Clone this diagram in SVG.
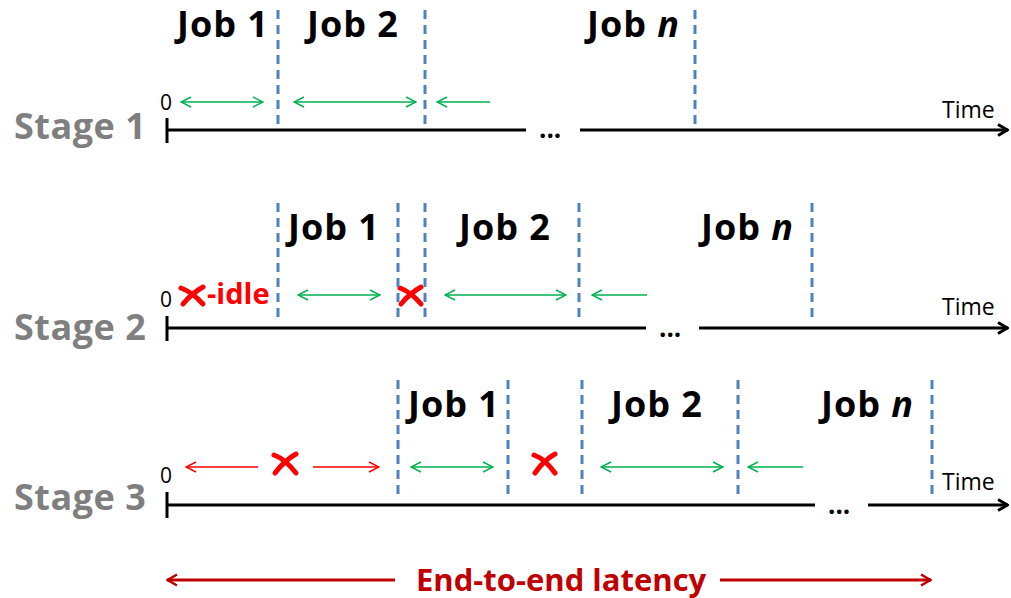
<svg xmlns="http://www.w3.org/2000/svg" width="1011" height="598" viewBox="0 0 1011 598">
<style>
.job{font-family:"Open Sans","Liberation Sans",sans-serif;font-weight:bold;font-size:36px;letter-spacing:1px;fill:#000}
.stage{font-family:"Open Sans","Liberation Sans",sans-serif;font-weight:bold;font-size:36px;letter-spacing:0.5px;fill:#7f7f7f}
.time{font-family:"Open Sans","Liberation Sans",sans-serif;font-size:23px;fill:#000}
.zero{font-family:"Open Sans","Liberation Sans",sans-serif;font-size:21px;fill:#000}
.dots{font-family:"Open Sans","Liberation Sans",sans-serif;font-weight:bold;font-size:26px;fill:#000}
.idle{font-family:"Open Sans","Liberation Sans",sans-serif;font-weight:bold;font-size:29px;fill:#ff0000}
.e2e{font-family:"Open Sans","Liberation Sans",sans-serif;font-weight:bold;font-size:31px;fill:#c00000}
.axis{stroke:#000;stroke-width:3;fill:none}
.dash{stroke:#4f81bd;stroke-width:3;stroke-dasharray:9 6;fill:none}
.g{stroke:#00b050;stroke-width:1.5;fill:none}
.r{stroke:#ff0000;stroke-width:1.5;fill:none}
.lat{stroke:#c00000;stroke-width:3;fill:none}
.x{stroke:#ff0000;stroke-width:5;stroke-linecap:round;fill:none}
</style>
<defs>
<marker id="ag" viewBox="0 0 12 12" refX="11" refY="6" markerWidth="12" markerHeight="12" markerUnits="userSpaceOnUse" orient="auto-start-reverse"><path d="M1,1 L11,6 L1,11" fill="none" stroke="#00b050" stroke-width="1.5"/></marker>
<marker id="ar" viewBox="0 0 12 12" refX="11" refY="6" markerWidth="12" markerHeight="12" markerUnits="userSpaceOnUse" orient="auto-start-reverse"><path d="M1,1 L11,6 L1,11" fill="none" stroke="#ff0000" stroke-width="1.5"/></marker>
<marker id="ak" viewBox="0 0 12 14" refX="11" refY="7" markerWidth="12" markerHeight="14" markerUnits="userSpaceOnUse" orient="auto"><path d="M1,1.5 L10.5,7 L1,12.5" fill="none" stroke="#000" stroke-width="3" stroke-linejoin="miter"/></marker>
<marker id="al" viewBox="0 0 12 14" refX="11" refY="7" markerWidth="12" markerHeight="14" markerUnits="userSpaceOnUse" orient="auto-start-reverse"><path d="M1,1.5 L10.5,7 L1,12.5" fill="none" stroke="#c00000" stroke-width="2.5"/></marker>
</defs>

<g id="stage1">
<text class="stage" x="14" y="139">Stage 1</text>
<text class="zero" x="160" y="110">0</text>
<text class="job" x="177" y="37">Job 1</text>
<text class="job" x="307" y="37">Job 2</text>
<text class="job" x="587" y="37">Job <tspan font-style="italic">n</tspan></text>
<text class="time" x="942" y="118">Time</text>
<text class="dots" x="539" y="138">...</text>
</g>
<g id="stage2">
<text class="stage" x="14" y="340">Stage 2</text>
<text class="zero" x="160" y="307">0</text>
<path class="x" d="M181,288 Q192,292 203,304 M203,287 Q192,293 183,304"/>
<text class="idle" x="207" y="304">-idle</text>
<path class="x" d="M400,288 Q411,292 421,304 M421,287 Q410,293 401,304"/>
<text class="job" x="288" y="240">Job 1</text>
<text class="job" x="459" y="240">Job 2</text>
<text class="job" x="701" y="240">Job <tspan font-style="italic">n</tspan></text>
<text class="time" x="942" y="315">Time</text>
<text class="dots" x="659" y="337">...</text>
</g>
<g id="stage3">
<text class="stage" x="14" y="510">Stage 3</text>
<text class="zero" x="160" y="483">0</text>
<path class="x" d="M274,455 Q285,459 296,473 M296,454 Q285,460 275,473"/>
<path class="x" d="M534,455 Q545,459 555,473 M555,454 Q544,460 535,473"/>
<text class="job" x="408" y="417">Job 1</text>
<text class="job" x="611" y="417">Job 2</text>
<text class="job" x="821" y="417">Job <tspan font-style="italic">n</tspan></text>
<text class="time" x="942" y="490">Time</text>
<text class="dots" x="828" y="514">...</text>
</g>
<g id="latency">
<text class="e2e" x="416" y="591">End-to-end latency</text>
</g>

<g id="connectors">
<path class="axis" d="M167,118 V143 M167,130 H526 M580,130 H1008" marker-end="url(#ak)"/>
<path class="dash" d="M278,10 V130 M425,10 V130 M695,10 V130"/>
<path class="g" d="M181,102 H263" marker-start="url(#ag)" marker-end="url(#ag)"/>
<path class="g" d="M294,102 H416" marker-start="url(#ag)" marker-end="url(#ag)"/>
<path class="g" d="M437,102 H490" marker-start="url(#ag)"/>
<path class="axis" d="M167,316 V341 M167,328 H646 M699,328 H1008" marker-end="url(#ak)"/>
<path class="dash" d="M278,203 V322 M398,203 V322 M425,203 V322 M579,203 V322 M812,203 V322"/>
<path class="g" d="M298,295 H380" marker-start="url(#ag)" marker-end="url(#ag)"/>
<path class="g" d="M445,295 H566" marker-start="url(#ag)" marker-end="url(#ag)"/>
<path class="g" d="M592,295 H647" marker-start="url(#ag)"/>
<path class="axis" d="M167,492 V518 M167,505 H815 M868,505 H1008" marker-end="url(#ak)"/>
<path class="dash" d="M398,380 V498 M508,380 V498 M582,380 V498 M738,380 V498 M932,380 V498"/>
<path class="r" d="M186,467 H258" marker-start="url(#ar)"/>
<path class="r" d="M313,467 H379" marker-end="url(#ar)"/>
<path class="g" d="M411,467 H493" marker-start="url(#ag)" marker-end="url(#ag)"/>
<path class="g" d="M601,467 H723" marker-start="url(#ag)" marker-end="url(#ag)"/>
<path class="g" d="M748,467 H803" marker-start="url(#ag)"/>
<path class="lat" d="M167,580 H395" marker-start="url(#al)"/>
<path class="lat" d="M720,580 H931" marker-end="url(#al)"/>
</g>
</svg>
